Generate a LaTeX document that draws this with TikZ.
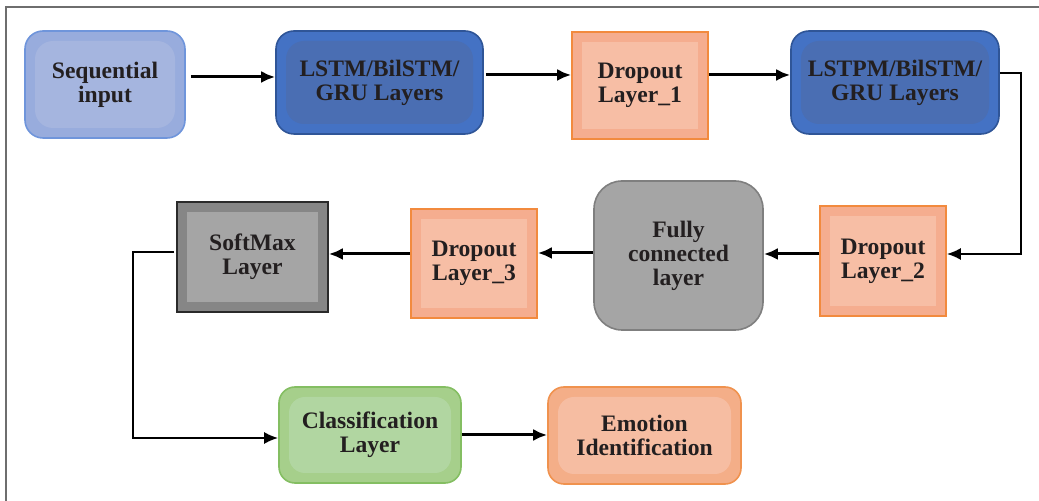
\documentclass[tikz,border=0pt]{standalone}
\usepackage{fontspec}
\setmainfont{Liberation Serif}
\usetikzlibrary{calc,arrows.meta}
\definecolor{txt}{HTML}{231F20}
\definecolor{frame}{HTML}{6E6E6E}
\definecolor{seqO}{HTML}{98ACDD}\definecolor{seqI}{HTML}{A5B5DF}\definecolor{seqB}{HTML}{6F95DB}
\definecolor{lstO}{HTML}{4472C4}\definecolor{lstI}{HTML}{4A6EB3}\definecolor{lstB}{HTML}{2F5597}
\definecolor{drO}{HTML}{F5AD8F}\definecolor{drI}{HTML}{F7BEA5}\definecolor{drB}{HTML}{F28A3E}
\definecolor{fcO}{HTML}{A5A5A5}\definecolor{fcB}{HTML}{7F7F7F}
\definecolor{smO}{HTML}{868686}\definecolor{smI}{HTML}{A5A5A5}\definecolor{smB}{HTML}{2A2A2A}
\definecolor{clO}{HTML}{A6CF8B}\definecolor{clI}{HTML}{B1D6A1}\definecolor{clB}{HTML}{84BE62}
\definecolor{emO}{HTML}{F4AE88}\definecolor{emI}{HTML}{F6BDA2}\definecolor{emB}{HTML}{F0924E}
\tikzset{
  box/.style={draw, line width=0.8pt, align=center, text=txt,
    font=\fontsize{11.8}{12}\selectfont\bfseries, inner sep=0pt},
  inner/.style={path picture={\fill[#1]
     ([shift={(5pt,5pt)}]path picture bounding box.south west) rectangle
     ([shift={(-5pt,-5pt)}]path picture bounding box.north east);}},
  arr/.style={line width=1.5pt, -{Latex[length=7pt,width=6pt]}},
  elb/.style={line width=1pt, -{Latex[length=7pt,width=6pt]}},
}
\begin{document}
\begin{tikzpicture}[x=0.5pt,y=-0.5pt]
\useasboundingbox (0,0) rectangle (1039,501);
\draw[frame, line width=1pt] (6,501) -- (6,7) -- (1039,7);

\node[box, fill=seqO, draw=seqB, inner=seqI, rounded corners=9pt,
  minimum width=80pt, minimum height=53.5pt] (seq) at (105,84.5) {Sequential\\input};
\node[box, fill=lstO, draw=lstB, inner=lstI, rounded corners=9pt,
  minimum width=103.5pt, minimum height=51.5pt] (lst1) at (379.5,82.5) {LSTM/BilSTM/\\GRU Layers};
\node[box, fill=drO, draw=drB, inner=drI,
  minimum width=68pt, minimum height=53.5pt] (dr1) at (640,85.5) {Dropout\\Layer\_1};
\node[box, fill=lstO, draw=lstB, inner=lstI, rounded corners=9pt,
  minimum width=104pt, minimum height=51.5pt] (lst2) at (895,82.5) {LSTPM/BilSTM/\\GRU Layers};
\node[box, fill=drO, draw=drB, inner=drI,
  minimum width=63pt, minimum height=55pt] (dr2) at (883,261) {Dropout\\Layer\_2};
\node[box, fill=fcO, draw=fcB, rounded corners=14pt,
  minimum width=84.5pt, minimum height=74.5pt] (fc) at (678.5,255.5) {Fully\\connected\\layer};
\node[box, fill=drO, draw=drB, inner=drI,
  minimum width=63pt, minimum height=54.5pt] (dr3) at (474,263.5) {Dropout\\Layer\_3};
\node[box, fill=smO, draw=smB, inner=smI,
  minimum width=75.5pt, minimum height=55pt] (sm) at (252.5,257) {SoftMax\\Layer};
\node[box, fill=clO, draw=clB, inner=clI, rounded corners=8pt,
  minimum width=91pt, minimum height=48pt] (cl) at (370,435) {Classification\\Layer};
\node[box, fill=emO, draw=emB, inner=emI, rounded corners=8pt,
  minimum width=96.5pt, minimum height=48.5pt] (em) at (644.5,435.5) {Emotion\\Identification};

\coordinate (a1) at ($(seq.east)+(5,-7.5)$);
\draw[arr] (a1) -- (a1 -| lst1.west);
\coordinate (a2) at ($(lst1.east)+(2,-7.5)$);
\draw[arr] (a2) -- (a2 -| dr1.west);
\coordinate (a3) at ($(dr1.east)+(0,-10.5)$);
\draw[arr] (a3) -- (a3 -| lst2.west);
\coordinate (b1) at ($(lst2.east)+(0,-9.5)$);
\coordinate (b2) at ($(b1)+(21,0)$);
\coordinate (b3) at ($(dr2.east)+(0,-7)$);
\draw[elb] (b1) -- (b2) -- (b2 |- b3) -- (b3);
\coordinate (a5) at ($(dr2.west)+(0,-7)$);
\draw[arr] (a5) -- (a5 -| fc.east);
\coordinate (a6) at ($(fc.west)+(0,-2.5)$);
\draw[arr] (a6) -- (a6 -| dr3.east);
\coordinate (a7) at ($(dr3.west)+(0,-9.5)$);
\draw[arr] (a7) -- (a7 -| sm.east);
\coordinate (c1) at ($(sm.west)+(-2,-5)$);
\coordinate (c2) at ($(c1)+(-41,0)$);
\coordinate (c3) at ($(cl.west)+(0,3)$);
\draw[elb] (c1) -- (c2) -- (c2 |- c3) -- (c3);
\draw[arr] (cl.east) -- (cl.east -| em.west);
\end{tikzpicture}
\end{document}
